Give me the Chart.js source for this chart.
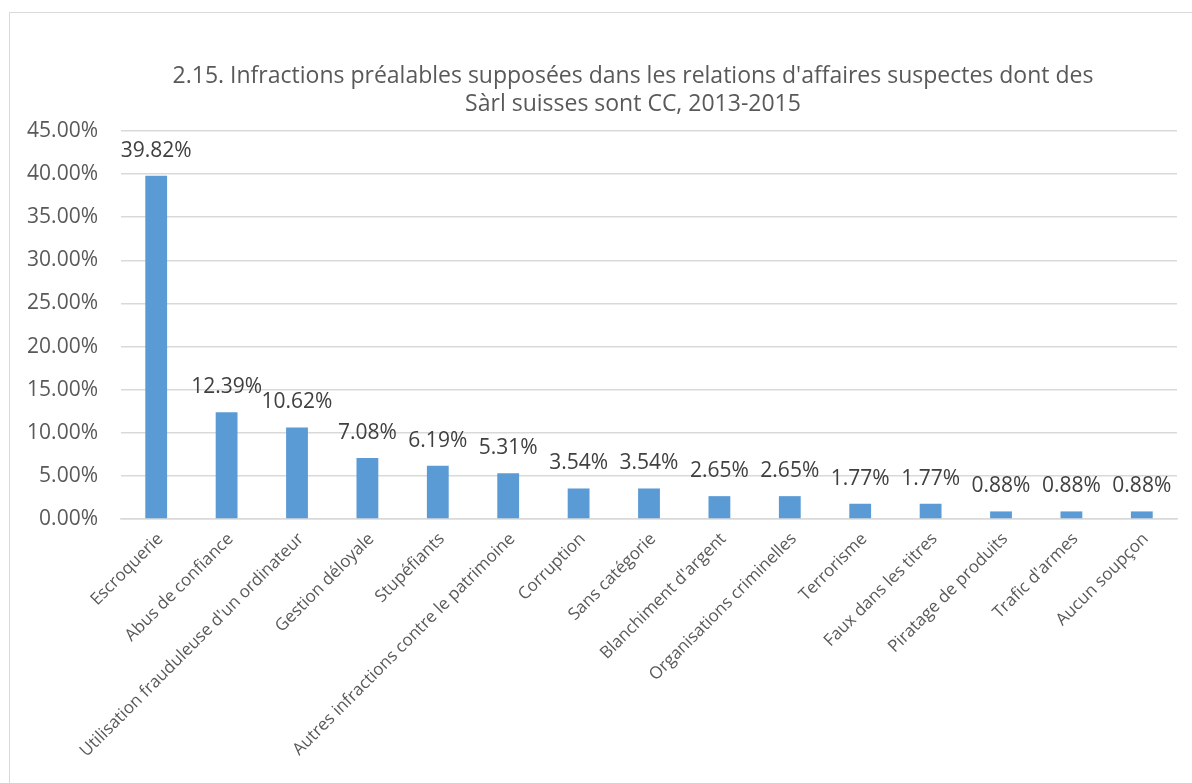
<!DOCTYPE html>
<html lang="fr">
<head>
    <meta charset="UTF-8">
    <title>Infractions préalables supposées</title>
    <script src="https://cdn.jsdelivr.net/npm/chart.js"></script>
    <style>
        html, body { margin: 0; padding: 0; background: #fff; overflow: hidden; }
        .frame {
            position: absolute;
            left: 9px; top: 12px;
            width: 1250px; height: 800px;
            border: 1px solid #d9d9d9;
            box-sizing: border-box;
        }
        .frame canvas { display: block; }
    </style>
</head>
<body>
    <div class="frame">
        <canvas id="chart" width="1248" height="798"></canvas>
    </div>

    <script>
        const categories = [
            'Escroquerie',
            'Abus de confiance',
            "Utilisation frauduleuse d'un ordinateur",
            'Gestion déloyale',
            'Stupéfiants',
            'Autres infractions contre le patrimoine',
            'Corruption',
            'Sans catégorie',
            "Blanchiment d'argent",
            'Organisations criminelles',
            'Terrorisme',
            'Faux dans les titres',
            'Piratage de produits',
            "Trafic d'armes",
            'Aucun soupçon'
        ];
        const shares = [39.82, 12.39, 10.62, 7.08, 6.19, 5.31, 3.54, 3.54, 2.65, 2.65, 1.77, 1.77, 0.88, 0.88, 0.88];
        const yTicks = [0, 5, 10, 15, 20, 25, 30, 35, 40, 45];
        const titleLines = [
            "2.15. Infractions préalables supposées dans les relations d'affaires suspectes dont des",
            'Sàrl suisses sont CC, 2013-2015'
        ];

        const FONT = '"Open Sans", sans-serif';

        function pct(v) {
            return v.toFixed(2) + '%';
        }

        // title drawn by hand: Excel centres it on the whole chart box, not the plot
        const chartTitle = {
            id: 'chartTitle',
            beforeDraw(chart) {
                const ctx = chart.ctx;
                ctx.save();
                ctx.font = '23px ' + FONT;
                ctx.fillStyle = '#595959';
                ctx.textAlign = 'center';
                ctx.textBaseline = 'middle';
                titleLines.forEach((line, i) => {
                    ctx.fillText(line, 623, 63 + i * 28);
                });
                ctx.restore();
            }
        };

        // value labels above each bar
        const barLabels = {
            id: 'barLabels',
            afterDatasetsDraw(chart) {
                const ctx = chart.ctx;
                const meta = chart.getDatasetMeta(0);
                ctx.save();
                ctx.font = '21px ' + FONT;
                ctx.fillStyle = '#404040';
                ctx.textAlign = 'center';
                ctx.textBaseline = 'middle';
                meta.data.forEach((bar, i) => {
                    ctx.fillText(pct(shares[i]), bar.x, bar.y - 25);
                });
                ctx.restore();
            }
        };

        new Chart(document.getElementById('chart'), {
            type: 'bar',
            data: {
                labels: categories,
                datasets: [{
                    data: shares,
                    backgroundColor: '#5b9bd5',
                    borderWidth: 0,
                    categoryPercentage: 1,
                    barPercentage: 0.31
                }]
            },
            options: {
                responsive: false,
                animation: false,
                layout: { padding: { left: 0, right: 81, top: 118, bottom: 0 } },
                plugins: {
                    legend: { display: false },
                    tooltip: { enabled: false },
                    title: { display: false }
                },
                scales: {
                    x: {
                        grid: { display: false, drawTicks: false },
                        border: { color: '#d9d9d9', width: 1.5 },
                        ticks: {
                            color: '#595959',
                            font: { family: FONT, size: 17 },
                            minRotation: 45,
                            maxRotation: 45,
                            autoSkip: false,
                            padding: 10,
                            labelOffset: 4
                        },
                        afterFit(scale) { scale.height = 292; }
                    },
                    y: {
                        min: 0,
                        max: 45,
                        afterBuildTicks(scale) {
                            scale.ticks = yTicks.map(v => ({ value: v }));
                        },
                        grid: { color: '#d9d9d9', lineWidth: 1.5, drawTicks: false },
                        border: { display: false },
                        ticks: {
                            color: '#595959',
                            font: { family: FONT, size: 21 },
                            padding: 23,
                            callback: v => pct(v)
                        },
                        afterFit(scale) { scale.width = 111; }
                    }
                }
            },
            plugins: [chartTitle, barLabels]
        });
    </script>
</body>
</html>
